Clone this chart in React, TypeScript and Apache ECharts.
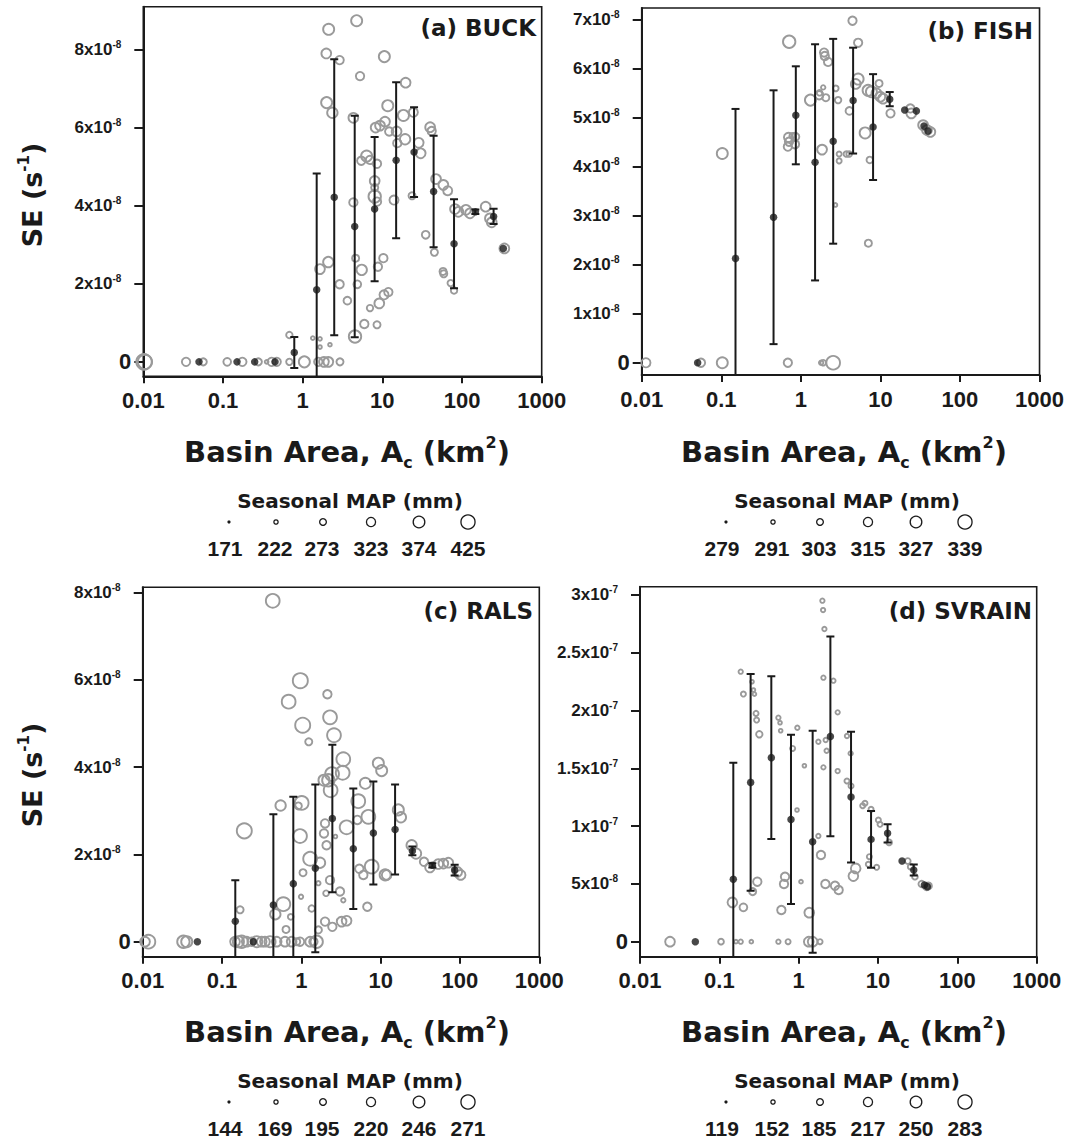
import React, { useEffect, useRef } from 'react';
import * as echarts from 'echarts';

// ---------------- DATA ----------------
// (a) BUCK  — SE in units of 1e-8 s^-1
const buckBinArea = [0.05, 0.15, 0.25, 0.45, 0.785, 1.5, 2.49, 4.5, 8.0, 14.9, 25, 44, 79.4, 147, 249, 330];
const buckBinMean = [0, 0, 0, 0, 0.24, 1.85, 4.22, 3.47, 3.92, 5.17, 5.38, 4.37, 3.03, 3.85, 3.73, 2.91];
const buckBinSD = [0, 0, 0, 0, 0.4, 2.98, 3.54, 2.84, 1.85, 2.0, 1.15, 1.43, 1.14, 0.06, 0.195, 0];
// [basin area km2, SE, seasonal MAP mm]
const buckBasins: number[][] = [
  [0.0102, 0, 420], [0.0105, 0, 395], [0.0344, 0, 274], [0.0566, 0, 247], [0.113, 0, 260], [0.175, 0, 274],
  [0.278, 0, 247], [0.353, 0, 178], [0.408, 0, 274], [0.472, 0, 274], [0.681, 0, 233], [0.681, 0.69, 233],
  [1.05, 0, 329], [1.34, 0.61, 178], [1.65, 0.59, 178], [1.65, 0.38, 178], [2.2, 0.44, 171], [1.57, 0, 274],
  [1.85, 0, 302], [2.1, 0, 302], [2.94, 0, 247], [1.65, 2.38, 302], [2.1, 2.56, 316], [2.12, 8.53, 329],
  [1.98, 7.91, 302], [2.91, 7.74, 274], [2.0, 6.65, 329], [2.36, 6.39, 316], [2.91, 1.99, 274], [3.64, 1.57, 260],
  [4.76, 8.75, 329], [5.25, 7.33, 274], [4.33, 6.26, 302], [4.33, 4.09, 274], [4.62, 2.66, 247], [4.85, 1.99, 260],
  [5.51, 2.36, 316], [4.54, 0.65, 357], [5.94, 0.97, 274], [7.0, 1.38, 233], [8.57, 0.95, 247], [9.16, 1.5, 302],
  [10.5, 1.72, 288], [11.9, 1.79, 274], [5.44, 5.16, 274], [6.35, 5.28, 329], [7.0, 5.18, 274], [8.57, 5.08, 274],
  [8.02, 4.64, 302], [8.02, 4.47, 247], [8.02, 4.24, 357], [8.57, 4.11, 274], [8.8, 2.44, 274], [10.3, 2.66, 274],
  [8.24, 6.01, 302], [9.35, 6.06, 302], [10.8, 6.16, 302], [12.2, 5.91, 274], [10.6, 7.83, 329], [11.7, 6.57, 329],
  [15.1, 5.91, 302], [15.4, 5.61, 274], [19.3, 5.71, 316], [18.4, 6.32, 329], [19.6, 7.16, 302], [14.0, 4.15, 288],
  [23.6, 4.26, 247], [24.5, 6.4, 288], [28.6, 5.62, 302], [30.3, 5.35, 302], [39.8, 6.02, 302], [41.6, 5.92, 274],
  [35.0, 3.26, 260], [47.2, 4.69, 302], [58.3, 4.54, 302], [66.1, 4.39, 288], [45.0, 2.81, 247], [57.8, 2.32, 247],
  [59, 2.26, 247], [72.1, 2.02, 233], [79.4, 1.83, 233], [81.7, 3.92, 302], [89.9, 3.85, 302], [112, 3.9, 302],
  [126, 3.81, 302], [198, 3.98, 302], [224, 3.68, 302], [236, 3.58, 302], [340, 2.91, 302],
];
const buckMAPLegend = [171, 222, 273, 323, 374, 425];
const buckYTicks = [0, 2, 4, 6, 8];

// (b) FISH — SE in units of 1e-8 s^-1
const fishBinArea = [0.0505, 0.151, 0.454, 0.865, 1.51, 2.55, 4.54, 8.09, 13.1, 20.2, 28.3, 35.3, 39.6];
const fishBinMean = [0, 2.13, 2.97, 5.05, 4.09, 4.52, 5.35, 4.81, 5.38, 5.16, 5.14, 4.83, 4.73];
const fishBinSD = [0, 3.05, 2.59, 1.0, 2.41, 2.09, 1.08, 1.08, 0.145, 0, 0, 0, 0];
const fishBasins: number[][] = [
  [0.0113, 0, 307], [0.0556, 0, 303], [0.103, 0, 316], [0.103, 4.27, 316], [0.714, 6.55, 323], [0.687, 0, 303],
  [0.7, 4.6, 307], [0.71, 4.51, 303], [0.687, 4.41, 303], [0.849, 4.61, 303], [0.845, 4.46, 303], [0.78, 4.63, 290],
  [1.32, 5.36, 316], [1.7, 5.46, 303], [1.72, 5.51, 290], [1.91, 5.62, 284], [2.06, 5.41, 297], [1.96, 6.33, 303],
  [2.0, 6.26, 303], [2.2, 6.14, 303], [1.85, 4.35, 310], [1.91, 0, 290], [1.8, 0, 284], [2.55, 0, 329],
  [2.72, 3.22, 281], [2.75, 5.6, 290], [2.94, 5.36, 294], [3.03, 4.26, 287], [3.03, 4.12, 287], [3.74, 4.26, 290],
  [4.05, 4.26, 290], [4.08, 5.14, 300], [4.46, 6.98, 303], [5.25, 6.53, 303], [5.25, 5.79, 316], [4.9, 5.69, 310],
  [6.43, 4.69, 316], [7.06, 2.44, 297], [7.35, 4.14, 294], [7.0, 5.56, 316], [7.71, 5.53, 316], [9.62, 5.7, 297],
  [8.91, 5.5, 310], [10, 5.43, 310], [10.8, 5.39, 310], [13.4, 5.09, 303], [23.8, 5.19, 303], [24.5, 5.09, 310],
  [34.4, 4.85, 310], [38.5, 4.75, 310], [42.5, 4.71, 310],
];
const fishMAPLegend = [279, 291, 303, 315, 327, 339];
const fishYTicks = [0, 1, 2, 3, 4, 5, 6, 7];

// (c) RALS — SE in units of 1e-8 s^-1
const ralsBinArea = [0.0489, 0.147, 0.248, 0.444, 0.792, 1.5, 2.46, 4.52, 8.09, 15.2, 25.1, 44.8, 85.7];
const ralsBinMean = [0, 0.47, 0, 0.84, 1.33, 1.68, 2.82, 2.13, 2.49, 2.57, 2.08, 1.75, 1.64];
const ralsBinSD = [0, 0.94, 0, 2.08, 1.99, 1.92, 1.69, 1.38, 1.18, 1.03, 0.1, 0.05, 0.125];
const ralsBasins: number[][] = [
  [0.0118, 0, 251], [0.0107, 0, 209], [0.0326, 0, 237], [0.0359, 0, 223], [0.146, 0, 209], [0.161, 0, 223],
  [0.177, 0, 237], [0.205, 0, 209], [0.237, 0, 196], [0.274, 0, 223], [0.316, 0, 209], [0.348, 0, 209],
  [0.403, 0, 223], [0.489, 0, 209], [0.622, 0, 209], [0.755, 0, 209], [0.874, 0, 182], [0.962, 0, 196],
  [1.29, 0, 209], [1.42, 0, 196], [1.56, 0, 237], [0.169, 0.73, 182], [0.191, 2.54, 264], [0.436, 7.81, 251],
  [0.548, 3.12, 216], [0.47, 0.63, 216], [0.593, 0.86, 251], [0.641, 0.28, 182], [0.735, 0.57, 168], [0.916, 3.11, 182],
  [1.01, 3.18, 251], [0.971, 5.98, 264], [0.692, 5.5, 251], [1.04, 4.96, 264], [1.24, 4.58, 182], [0.962, 2.42, 251],
  [1.29, 1.9, 251], [1.72, 1.81, 216], [1.05, 1.58, 182], [0.991, 1.03, 154], [1.35, 0.76, 175], [1.64, 1.34, 154],
  [1.64, 0.27, 182], [1.99, 0.46, 196], [2.46, 0.34, 196], [3.22, 0.46, 209], [3.72, 0.48, 209], [2.13, 5.67, 196],
  [2.3, 5.14, 251], [2.58, 4.73, 251], [3.38, 4.18, 251], [3.32, 3.87, 251], [2.44, 3.84, 251], [1.93, 3.7, 223],
  [2.19, 3.7, 237], [2.34, 3.47, 251], [1.99, 2.71, 196], [1.93, 2.48, 196], [2.08, 2.21, 196], [2.3, 1.41, 196],
  [2.05, 1.11, 168], [3.07, 1.15, 196], [3.38, 0.95, 154], [2.69, 2.41, 147], [3.72, 2.62, 251], [5.22, 3.22, 251],
  [5.08, 2.79, 196], [6.41, 3.63, 223], [7.0, 2.86, 251], [5.38, 1.67, 196], [6.05, 1.53, 196], [7.71, 1.72, 251],
  [6.79, 0.8, 196], [9.35, 4.09, 223], [10.3, 3.92, 223], [11.4, 1.53, 223], [11.9, 1.53, 209], [16.7, 3.02, 223],
  [18.0, 2.85, 216], [24.6, 2.21, 216], [27.9, 2.02, 216], [35.2, 1.83, 196], [41.9, 1.7, 209], [53.3, 1.78, 209],
  [61.7, 1.79, 209], [71.3, 1.81, 209], [92.5, 1.6, 209], [102, 1.53, 209],
];
const ralsMAPLegend = [144, 169, 195, 220, 246, 271];
const ralsYTicks = [0, 2, 4, 6, 8];

// (d) SVRAIN — SE in units of 1e-7 s^-1
const svrainBinArea = [0.0498, 0.15, 0.248, 0.452, 0.8, 1.5, 2.51, 4.57, 8.17, 13.2, 20.1, 28.2, 38.4, 41.9];
const svrainBinMean = [0, 0.539, 1.378, 1.592, 1.058, 0.865, 1.776, 1.251, 0.885, 0.937, 0.698, 0.62, 0.49, 0.476];
const svrainBinSD = [0, 1.009, 0.937, 0.704, 0.733, 0.96, 0.865, 0.566, 0.245, 0.078, 0, 0.048, 0, 0];
const svrainBasins: number[][] = [
  [0.0239, 0, 203], [0.105, 0, 150], [0.162, 0, 123], [0.186, 0, 132], [0.253, 0, 123], [0.555, 0, 132],
  [0.735, 0, 141], [1.34, 0, 203], [1.5, 0, 203], [1.86, 0, 141], [0.146, 0.34, 203], [0.201, 0.297, 177],
  [0.263, 0.433, 168], [0.301, 0.519, 186], [0.186, 2.336, 132], [0.201, 2.142, 141], [0.258, 2.249, 123],
  [0.269, 2.177, 123], [0.277, 2.142, 123], [0.29, 1.975, 141], [0.295, 1.917, 141], [0.319, 1.794, 159],
  [0.555, 1.938, 132], [0.582, 1.894, 123], [0.593, 1.825, 123], [0.962, 1.851, 132], [0.839, 1.672, 141],
  [1.18, 1.522, 123], [0.953, 1.139, 123], [0.673, 0.562, 186], [0.653, 0.499, 186], [0.605, 0.274, 186],
  [1.07, 0.519, 123], [1.36, 0.251, 203], [1.77, 0.914, 132], [1.91, 0.75, 186], [2.17, 0.499, 186],
  [2.87, 0.484, 186], [3.19, 0.447, 186], [1.99, 2.95, 132], [2.03, 2.869, 132], [2.11, 2.705, 132],
  [2.05, 2.284, 132], [2.74, 2.258, 132], [3.1, 1.984, 132], [1.77, 1.73, 132], [2.19, 1.745, 132],
  [2.25, 1.652, 132], [2.05, 1.508, 132], [3.1, 1.476, 132], [4.06, 1.779, 132], [4.52, 1.629, 132],
  [4.06, 1.39, 141], [4.57, 1.347, 141], [4.89, 0.568, 203], [5.23, 0.634, 203], [6.41, 1.176, 141],
  [6.85, 1.197, 141], [8.17, 1.145, 141], [7.78, 0.735, 141], [7.55, 0.669, 141], [9.62, 0.643, 141],
  [10.1, 1.052, 141], [10.6, 1.015, 141], [13.8, 0.859, 150], [23.7, 0.698, 150], [25.8, 0.649, 150],
  [29.2, 0.562, 150], [35.5, 0.499, 159], [41.0, 0.476, 168], [43.1, 0.482, 168],
];
const svrainMAPLegend = [119, 152, 185, 217, 250, 283];
const svrainYTicks = [0, 0.5, 1, 1.5, 2, 2.5, 3];

const areaTicks = [0.01, 0.1, 1, 10, 100, 1000];

// ---------------- STYLE / LAYOUT ----------------
const INK = '#1a1a1a';
const GRAY = '#9a9a9a';
const ARIAL = "'Liberation Sans', Arial, sans-serif";
const GOTHIC = "'DejaVu Sans', sans-serif";

const panels = [
  { label: '(a) BUCK', unit: 1e-8, yTicks: buckYTicks, area: buckBinArea, mean: buckBinMean, sd: buckBinSD, basins: buckBasins, legend: buckMAPLegend,
    grid: { left: 143.3, top: 6.7, width: 398.4, height: 369.6 }, yMin: -0.37, yMax: 9.11, labelPos: [536, 28], col: 0, row: 0 },
  { label: '(b) FISH', unit: 1e-8, yTicks: fishYTicks, area: fishBinArea, mean: fishBinMean, sd: fishBinSD, basins: fishBasins, legend: fishMAPLegend,
    grid: { left: 641.7, top: 8, width: 398.3, height: 367 }, yMin: -0.25, yMax: 7.24, labelPos: [1033, 31], col: 1, row: 0 },
  { label: '(c) RALS', unit: 1e-8, yTicks: ralsYTicks, area: ralsBinArea, mean: ralsBinMean, sd: ralsBinSD, basins: ralsBasins, legend: ralsMAPLegend,
    grid: { left: 142.7, top: 587.3, width: 396.6, height: 369.4 }, yMin: -0.344, yMax: 8.12, labelPos: [533, 611], col: 0, row: 1 },
  { label: '(d) SVRAIN', unit: 1e-7, yTicks: svrainYTicks, area: svrainBinArea, mean: svrainBinMean, sd: svrainBinSD, basins: svrainBasins, legend: svrainMAPLegend,
    grid: { left: 640, top: 586.7, width: 396.7, height: 370 }, yMin: -0.13, yMax: 3.071, labelPos: [1032, 611], col: 1, row: 1 },
];

const COL_DX = 497;
const ROW_DY = 580;
const legendXs = [229, 276, 323, 371, 419, 468];
const legendNumXs = [225, 275, 322, 371, 419, 468];

function sizeFor(map: number, legend: number[]) {
  const lo = legend[0], hi = legend[legend.length - 1];
  const f = Math.max(0, Math.min(1, (map - lo) / (hi - lo)));
  return 3 + f * 12.3;
}

function sciLabel(v: number) {
  if (Math.abs(v) < 1e-20) return '{z|0}';
  const e = Math.floor(Math.log10(v) + 1e-9);
  const m = +(v / Math.pow(10, e)).toPrecision(3);
  return `{m|${m}x10}{s|${e}}`;
}

function buildOption() {
  const grid: any[] = [];
  const xAxis: any[] = [];
  const yAxis: any[] = [];
  const series: any[] = [];
  const graphic: any[] = [];

  panels.forEach((p, i) => {
    grid.push({ ...p.grid, show: true, borderColor: INK, borderWidth: 1.6, backgroundColor: 'transparent' });
    xAxis.push({
      type: 'log', logBase: 10, gridIndex: i, min: 0.01, max: 1000,
      axisLine: { show: true, onZero: false, lineStyle: { color: INK, width: 2 } },
      axisTick: { show: true, length: 7, inside: false, lineStyle: { color: INK, width: 2 } },
      minorTick: { show: false },
      splitLine: { show: false },
      axisLabel: {
        show: true, margin: 13, color: INK, fontFamily: ARIAL, fontWeight: 'bold', fontSize: 22,
        formatter: (v: number) => {
          const s = String(+Number(v).toPrecision(6));
          return areaTicks.some((t) => Math.abs(Math.log10(t) - Math.log10(v)) < 1e-6) ? s : '';
        },
      },
    });
    const yVals = p.yTicks.map((t) => t * p.unit);
    yAxis.push({
      type: 'value', gridIndex: i, min: p.yMin * p.unit, max: p.yMax * p.unit,
      axisLine: { show: true, onZero: false, lineStyle: { color: INK, width: 2 } },
      axisTick: { show: true, length: 9, customValues: yVals, lineStyle: { color: INK, width: 2 } },
      splitLine: { show: false },
      axisLabel: {
        show: true, customValues: yVals, margin: 12, color: INK,
        formatter: (v: number) => sciLabel(v),
        rich: {
          m: { fontFamily: ARIAL, fontWeight: 'bold', fontSize: 17, color: INK, lineHeight: 20 },
          s: { fontFamily: ARIAL, fontWeight: 'bold', fontSize: 10, color: INK, verticalAlign: 'top', lineHeight: 11, padding: [0, 10, 0, 0] },
          z: { fontFamily: ARIAL, fontWeight: 'bold', fontSize: 22, color: INK, lineHeight: 24 },
        },
      },
    });

    // gray basin circles (size = seasonal MAP)
    series.push({
      type: 'scatter', xAxisIndex: i, yAxisIndex: i, z: 2, silent: true,
      data: p.basins.map((b) => [b[0], b[1] * p.unit, b[2]]),
      symbol: 'circle',
      symbolSize: (val: number[]) => Math.max(3.6, sizeFor(val[2], p.legend) + 0.4),
      itemStyle: { color: 'rgba(255,255,255,0)', borderColor: GRAY, borderWidth: 1.9, opacity: 1 },
      clip: true,
    });

    // error bars (mean ± sd)
    const errData: number[][] = [];
    p.area.forEach((a, k) => {
      if (p.sd[k] > 0) errData.push([a, (p.mean[k] - p.sd[k]) * p.unit, (p.mean[k] + p.sd[k]) * p.unit]);
    });
    series.push({
      type: 'custom', xAxisIndex: i, yAxisIndex: i, z: 3, silent: true, clip: true,
      data: errData,
      encode: { x: 0, y: [1, 2] },
      renderItem: (params: any, api: any) => {
        const x = api.value(0);
        const top = api.coord([x, api.value(2)]);
        const bot = api.coord([x, api.value(1)]);
        const w = 4;
        const st = { stroke: INK, lineWidth: 2 };
        return {
          type: 'group',
          children: [
            { type: 'line', shape: { x1: top[0], y1: top[1], x2: bot[0], y2: bot[1] }, style: st },
            { type: 'line', shape: { x1: top[0] - w, y1: top[1], x2: top[0] + w, y2: top[1] }, style: st },
            { type: 'line', shape: { x1: bot[0] - w, y1: bot[1], x2: bot[0] + w, y2: bot[1] }, style: st },
          ],
        };
      },
    });

    // black bin means
    series.push({
      type: 'scatter', xAxisIndex: i, yAxisIndex: i, z: 4, silent: true,
      data: p.area.map((a, k) => [a, p.mean[k] * p.unit]),
      symbol: 'circle', symbolSize: 7.5,
      itemStyle: { color: INK, borderWidth: 0 },
      clip: true,
    });

    const dx = p.col * COL_DX;
    const dy = p.row * ROW_DY;

    // panel label
    graphic.push({
      type: 'text', x: p.labelPos[0], y: p.labelPos[1], silent: true,
      style: { text: p.label, fontFamily: GOTHIC, fontWeight: 'bold', fontSize: 23, fill: INK,
        align: 'right', verticalAlign: 'middle', textAlign: 'right', textVerticalAlign: 'middle' },
    });

    // x-axis title
    graphic.push({
      type: 'text', x: 347 + dx, y: 452 + dy, silent: true,
      style: {
        text: '{t|Basin Area, A}{b|c}{t| (km}{p|2}{t|)}',
        fill: INK, align: 'center', verticalAlign: 'middle', textAlign: 'center', textVerticalAlign: 'middle',
        rich: {
          t: { fontFamily: GOTHIC, fontWeight: 'bold', fontSize: 29, fill: INK, lineHeight: 36 },
          b: { fontFamily: GOTHIC, fontWeight: 'bold', fontSize: 16, fill: INK, lineHeight: 8, verticalAlign: 'bottom' },
          p: { fontFamily: GOTHIC, fontWeight: 'bold', fontSize: 16, fill: INK, lineHeight: 16, verticalAlign: 'top' },
        },
      },
    });

    // y-axis title (left column only)
    if (p.col === 0) {
      graphic.push({
        type: 'text', x: 32, y: 195 + dy, rotation: Math.PI / 2, silent: true,
        style: {
          text: '{t|SE (s}{p|-1}{t|)}',
          fill: INK, align: 'center', verticalAlign: 'middle', textAlign: 'center', textVerticalAlign: 'middle',
          rich: {
            t: { fontFamily: GOTHIC, fontWeight: 'bold', fontSize: 27, fill: INK, lineHeight: 32 },
            p: { fontFamily: GOTHIC, fontWeight: 'bold', fontSize: 15, fill: INK, lineHeight: 15, verticalAlign: 'top' },
          },
        },
      });
    }

    // MAP legend
    graphic.push({
      type: 'text', x: 350 + dx, y: 501 + dy, silent: true,
      style: { text: 'Seasonal MAP (mm)', fontFamily: GOTHIC, fontWeight: 'bold', fontSize: 20, fill: INK,
        align: 'center', verticalAlign: 'middle', textAlign: 'center', textVerticalAlign: 'middle' },
    });
    p.legend.forEach((m, k) => {
      const s = sizeFor(m, p.legend);
      const cx = legendXs[k] + dx;
      const cy = 522 + dy;
      if (k === 0) {
        graphic.push({ type: 'circle', silent: true, shape: { cx, cy, r: 1.6 }, style: { fill: INK } });
      } else {
        graphic.push({ type: 'circle', silent: true, shape: { cx, cy, r: (s - 1.2) / 2 }, style: { fill: 'none', stroke: INK, lineWidth: 1.3 } });
      }
      graphic.push({
        type: 'text', x: legendNumXs[k] + dx, y: 548 + dy, silent: true,
        style: { text: String(m), fontFamily: ARIAL, fontWeight: 'bold', fontSize: 21, fill: INK,
          align: 'center', verticalAlign: 'middle', textAlign: 'center', textVerticalAlign: 'middle' },
      });
    });
  });

  return {
    animation: false,
    backgroundColor: '#ffffff',
    grid, xAxis, yAxis, series, graphic,
  };
}

export default function App() {
  const ref = useRef<HTMLDivElement>(null);
  useEffect(() => {
    if (!ref.current) return;
    const chart = echarts.init(ref.current, undefined, { renderer: 'svg', width: 1067, height: 1141 });
    chart.setOption(buildOption() as any);
    return () => chart.dispose();
  }, []);
  return <div ref={ref} style={{ position: 'absolute', left: 0, top: 0, width: 1067, height: 1141, background: '#fff' }} />;
}
